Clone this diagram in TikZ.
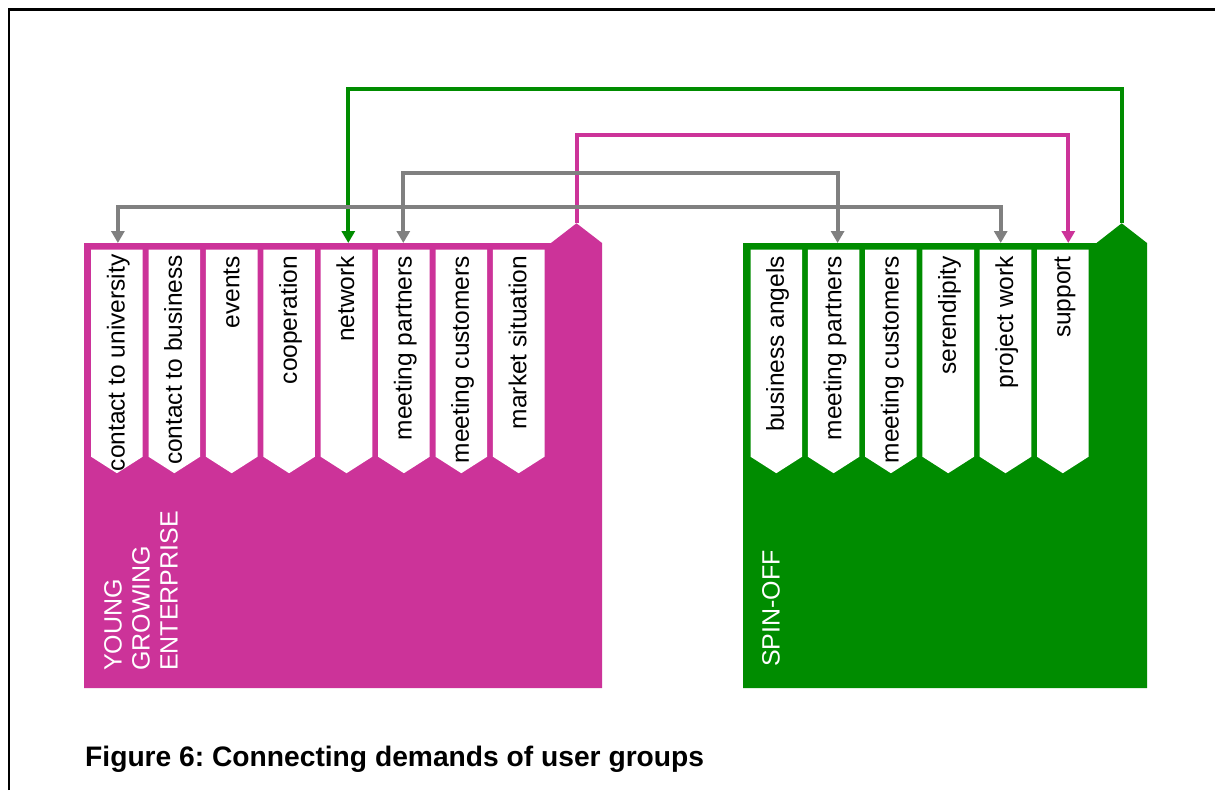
\documentclass[tikz,border=0pt]{standalone}
\usepackage{fontspec}
\setmainfont{Liberation Sans}
\usetikzlibrary{arrows.meta,calc}
\definecolor{magblk}{RGB}{204,51,153}
\definecolor{grnblk}{RGB}{0,140,0}
\definecolor{conngray}{RGB}{128,128,128}
\newcommand\drawtab[1]{\fill[white] (#1.north west) -- (#1.north east) -- (#1.south east) -- ($(#1.south)+(0,16.5)$) -- (#1.south west) -- cycle;}
\frenchspacing
\begin{document}
\begin{tikzpicture}[x=1pt,y=-1pt,
  blockbox/.style={rectangle, minimum height=445pt, inner sep=0pt, outer sep=0pt},
  tabbox/.style={rectangle, minimum width=51.6pt, minimum height=207.2pt, inner sep=0pt, outer sep=0pt},
  tablabel/.style={rotate=90, anchor=east, inner sep=0pt, text height=17.4pt, text depth=5.1pt, font=\fontsize{24.5}{28}\selectfont},
  grouplabel/.style={rotate=90, anchor=north west, inner sep=0pt, align=left, text=white, font=\fontsize{25}{28}\selectfont},
  conn/.style={line width=4pt, -{Triangle[width=13pt,length=12pt]}},
  connboth/.style={line width=4pt, {Triangle[width=13pt,length=12pt]}-{Triangle[width=13pt,length=12pt]}}
]
\useasboundingbox (0,0) rectangle (1215,790);
\fill[white] (0,0) rectangle (1215,790);
\draw[line width=2.6pt] (8.8,790) -- (8.8,9.3) -- (1215,9.3);

% blocks
\node[blockbox, minimum width=518pt] (yge) at (343,465.5) {};
\fill[magblk] (yge.south west) -- (yge.north west) -- ($(yge.north east)+(-51,0)$) -- ($(yge.north east)+(-25.5,-19.7)$) coordinate (ygepeak) -- (yge.north east) -- (yge.south east) -- cycle;
\node[blockbox, minimum width=404pt] (spo) at (945,465.5) {};
\fill[grnblk] (spo.south west) -- (spo.north west) -- ($(spo.north east)+(-50.5,0)$) -- ($(spo.north east)+(-25.3,-19.7)$) coordinate (spopeak) -- (spo.north east) -- (spo.south east) -- cycle;

% magenta tabs
\node[tabbox] (m1) at (116.9,353.1) {};
\node[tabbox] (m2) at (174.3,353.1) {};
\node[tabbox] (m3) at (231.7,353.1) {};
\node[tabbox] (m4) at (289.1,353.1) {};
\node[tabbox] (m5) at (346.5,353.1) {};
\node[tabbox] (m6) at (403.9,353.1) {};
\node[tabbox] (m7) at (461.3,353.1) {};
\node[tabbox] (m8) at (518.7,353.1) {};
\drawtab{m1}\drawtab{m2}\drawtab{m3}\drawtab{m4}\drawtab{m5}\drawtab{m6}\drawtab{m7}\drawtab{m8}

% green tabs
\node[tabbox] (g1) at (776.3,353.1) {};
\node[tabbox] (g2) at (833.6,353.1) {};
\node[tabbox] (g3) at (890.9,353.1) {};
\node[tabbox] (g4) at (948.2,353.1) {};
\node[tabbox] (g5) at (1005.5,353.1) {};
\node[tabbox] (g6) at (1062.8,353.1) {};
\drawtab{g1}\drawtab{g2}\drawtab{g3}\drawtab{g4}\drawtab{g5}\drawtab{g6}

% tab labels
\node[tablabel] (m1l) at ($(m1.north)+(1.5,5)$) {contact to university};
\node[tablabel] (m2l) at ($(m2.north)+(1.5,5.5)$) {contact to business};
\node[tablabel] (m3l) at ($(m3.north)+(1.5,6.5)$) {events};
\node[tablabel] (m4l) at ($(m4.north)+(1.5,6.5)$) {cooperation};
\node[tablabel] (m5l) at ($(m5.north)+(1.5,6.5)$) {network};
\node[tablabel] (m6l) at ($(m6.north)+(1.5,6.5)$) {meeting partners};
\node[tablabel] (m7l) at ($(m7.north)+(1.5,6.5)$) {meeting customers};
\node[tablabel] (m8l) at ($(m8.north)+(1.5,6.5)$) {market situation};
\node[tablabel] (g1l) at ($(g1.north)+(1.5,6.5)$) {business angels};
\node[tablabel] (g2l) at ($(g2.north)+(1.5,6.5)$) {meeting partners};
\node[tablabel] (g3l) at ($(g3.north)+(1.5,6.5)$) {meeting customers};
\node[tablabel] (g4l) at ($(g4.north)+(1.5,6.5)$) {serendipity};
\node[tablabel] (g5l) at ($(g5.north)+(1.5,6.5)$) {project work};
\node[tablabel] (g6l) at ($(g6.north)+(1.5,6.5)$) {support};

% group labels
\node[grouplabel] (ygel) at (104,671) {YOUNG\\GROWING\\ENTERPRISE};
\node[grouplabel] (spol) at (762,667) {SPIN-OFF};

% caption
\node[anchor=base west, inner sep=0pt, font=\fontsize{28.2}{30}\selectfont\bfseries] (cap) at (85,766) {Figure 6: Connecting demands of user groups};

% connectors
\draw[conn, grnblk] (spopeak) -- ++(0,-134.3) -| ($(m5.north)+(1.8,-6.5)$);
\draw[conn, magblk] (ygepeak) -- ++(0,-88.3) -| ($(g6.north)+(5.5,-6.5)$);
\draw[connboth, conngray] ($(m6.north)+(-0.6,-6.5)$) -- ++(0,-70) -| ($(g2.north)+(4,-6.5)$);
\draw[connboth, conngray] ($(m1.north)+(1,-6.5)$) -- ++(0,-36) -| ($(g5.north)+(-4.8,-6.5)$);
\end{tikzpicture}
\end{document}
